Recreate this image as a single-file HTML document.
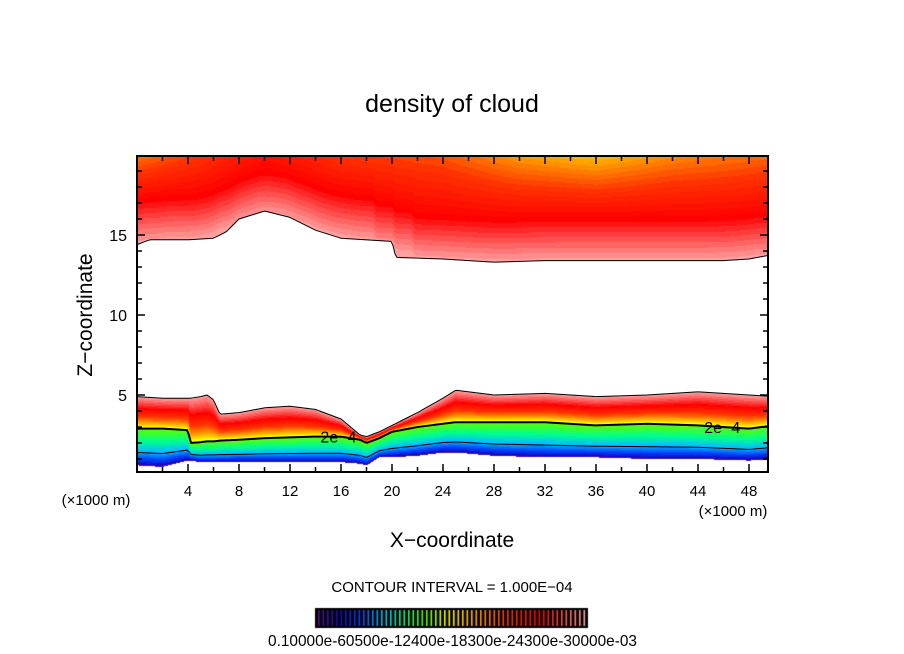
<!DOCTYPE html>
<html><head><meta charset="utf-8"><style>
html,body{margin:0;padding:0;background:#fff;}
#wrap{position:relative;width:904px;height:654px;overflow:hidden;}
canvas,svg{position:absolute;left:0;top:0;}
text{font-family:"Liberation Sans",sans-serif;fill:#000;}
</style></head><body>
<div id="wrap">
<canvas id="cv" width="904" height="654"></canvas>
<svg id="sv" width="904" height="654">
<text x="452" y="112" text-anchor="middle" font-size="25">density of cloud</text>
<text transform="translate(92,315) rotate(-90)" text-anchor="middle" font-size="21">Z−coordinate</text>
<text x="452" y="547" text-anchor="middle" font-size="21">X−coordinate</text>
<text x="96" y="505" text-anchor="middle" font-size="15">(×1000 m)</text>
<text x="733" y="516" text-anchor="middle" font-size="15">(×1000 m)</text>
<text x="452" y="592" text-anchor="middle" font-size="15">CONTOUR INTERVAL = 1.000E−04</text>
<text x="268" y="646" font-size="16" textLength="369" lengthAdjust="spacingAndGlyphs">0.10000e-60500e-12400e-18300e-24300e-30000e-03</text>
</svg>
</div>
<script>
// data (x in 1000 m, z in km)
const upperX = [0,1,4,6,7,8,10,12,14,16,18,20,20.3,24,28,32,40,46,48,50];
const upperBottom = [14.4,14.7,14.7,14.8,15.2,16,16.5,16.1,15.3,14.8,14.7,14.6,13.6,13.5,13.3,13.4,13.4,13.4,13.5,13.8];
const upperTopX = [0,5,10,16,24,30,36,42,50];
const upperTopVal = [0.26,0.28,0.30,0.28,0.27,0.25,0.24,0.255,0.265];
const lowX = [0,2,4,4.2,5,5.5,6,6.5,8,10,12,14,16,17.5,18,19,20,22,24,25,28,32,36,40,44,48,50];
const lowTop = [4.9,4.8,4.8,4.8,4.9,5.0,4.7,3.8,3.9,4.2,4.3,4.1,3.5,2.5,2.4,2.7,3.1,3.9,4.8,5.3,5.0,5.1,4.9,5.0,5.2,5.0,4.9];
const lowContour = [2.9,2.9,2.8,2.0,2.05,2.1,2.1,2.15,2.2,2.3,2.35,2.4,2.4,2.2,2.0,2.3,2.7,3.0,3.2,3.3,3.3,3.3,3.1,3.2,3.1,2.9,3.1];
const lowBottom = [0.6,0.5,0.9,0.9,0.8,0.8,0.8,0.8,0.8,0.8,0.8,0.8,0.8,0.7,0.6,1.1,1.1,1.2,1.4,1.4,1.2,1.1,1.1,1.0,1.0,0.9,1.0];
const cbarLevels = 60;
const xTicks = [4,8,12,16,20,24,28,32,36,40,44,48];
const yTicks = [5,10,15];

const L=137,R=768,T=156,B=472, XU=12.75, Z0=475, ZU=16;
const sx = x => L + x*XU;
const sz = z => Z0 - z*ZU;
const xOf = px => (px-L)/XU;
const zOf = py => (Z0-py)/ZU;
function interp(xs,ys,x){
  if(x<=xs[0])return ys[0]; if(x>=xs[xs.length-1])return ys[ys.length-1];
  for(let i=1;i<xs.length;i++) if(x<=xs[i]){const t=(x-xs[i-1])/(xs[i]-xs[i-1]);return ys[i-1]+t*(ys[i]-ys[i-1]);}
}
const stops=[[0.10,[90,16,144]],[0.12,[20,10,200]],[0.14,[0,70,255]],[0.16,[0,190,255]],[0.18,[0,255,140]],[0.20,[90,255,0]],[0.22,[255,255,0]],[0.25,[255,160,0]],[0.28,[255,50,0]],[0.31,[255,0,0]],[0.35,[255,160,160]]];
function cmap(v){
  if(v<=stops[0][0])return stops[0][1]; if(v>=stops[stops.length-1][0])return stops[stops.length-1][1];
  for(let i=1;i<stops.length;i++) if(v<=stops[i][0]){const t=(v-stops[i-1][0])/(stops[i][0]-stops[i-1][0]);
    return stops[i-1][1].map((c,k)=>Math.round(c+t*(stops[i][1][k]-c)));}
}
const cv=document.getElementById('cv'),ctx=cv.getContext('2d');
const img=ctx.createImageData(904,654);
for(let px=L;px<R;px++){
  const x=xOf(px+0.5);
  const tv=interp(upperTopX,upperTopVal,x);
  const ubs=(interp(upperX,upperBottom,x-1.5)+interp(upperX,upperBottom,x)+interp(upperX,upperBottom,x+1.5))/3;
  const ub=interp(upperX,upperBottom,x);
  const lt=interp(lowX,lowTop,x), lc=interp(lowX,lowContour,x), lb=interp(lowX,lowBottom,x);
  for(let py=T;py<B;py++){
    const z=zOf(py+0.5); let v=null;
    if(z>=ub){
      const d=z-ubs;
      if(d<2.6){v=0.35-0.04*Math.max(0,d)/2.6;}
      else{v=0.31+(tv-0.31)*Math.min(1,(d-2.6)/Math.max(0.5,20-ubs-2.6));}
    }
    else if(z<=lt && z>=lb){
      if(z>=lc) v=0.20+0.15*Math.pow((z-lc)/(lt-lc),0.65);
      else v=0.10+0.10*Math.pow((z-lb)/(lc-lb),0.55);
    }
    if(v!==null){const c=cmap(Math.round(v*200)/200);const i=(py*904+px)*4;img.data[i]=c[0];img.data[i+1]=c[1];img.data[i+2]=c[2];img.data[i+3]=255;}
  }
}
ctx.putImageData(img,0,0);
// colorbar
ctx.fillStyle='#000';ctx.fillRect(315,608,273,20);
for(let i=0;i<cbarLevels;i++){const v=0.10+0.25*i/(cbarLevels-1);const c=cmap(v);
  ctx.fillStyle=`rgb(${c[0]},${c[1]},${c[2]})`;ctx.fillRect(318+i*4.5,610,1.6,16);}

const NS='http://www.w3.org/2000/svg', sv=document.getElementById('sv');
function line(pts,w,name){const p=document.createElementNS(NS,'polyline');
  p.setAttribute('points',pts.map(q=>q.join(',')).join(' '));p.setAttribute('fill','none');p.setAttribute('stroke','#000');p.setAttribute('stroke-width',w);
  
  
  sv.appendChild(p);}
function curve(xs,ys,w,name){const pts=[];for(let px=L;px<=R;px+=2){pts.push([px,sz(interp(xs,ys,xOf(px)))]);}line(pts,w,name);}
curve(upperX,upperBottom,1,'upper-cloud-edge');
curve(lowX,lowTop,1,'lower-cloud-top-edge');
curve(lowX,lowContour,2,'contour-2e-4');
curve(lowX,lowBottom.map((b,i)=>b+(lowContour[i]-b)*0.35),1,'contour-1e-4');
function lbl(x,txt,name){const xz=interp(lowX,lowContour,x);
  const t=document.createElementNS(NS,'text');t.setAttribute('x',sx(x));t.setAttribute('y',sz(xz)+6);t.setAttribute('text-anchor','middle');t.setAttribute('font-size','16');t.textContent=txt;
  
  
  sv.appendChild(t);}
lbl(15.8,'2e−4','contour-label-left');lbl(45.9,'2e−4','contour-label-right');
// frame
const fr=document.createElementNS(NS,'rect');fr.setAttribute('x',L);fr.setAttribute('y',T);fr.setAttribute('width',R-L);fr.setAttribute('height',B-T);fr.setAttribute('fill','none');fr.setAttribute('stroke','#000');fr.setAttribute('stroke-width',2);


sv.appendChild(fr);
for(let x=2;x<50;x+=2){const major=xTicks.includes(x);const h=major?8:5;
  line([[sx(x),B],[sx(x),B-h]],1.5,'x-tick');line([[sx(x),T],[sx(x),T+h]],1.5,'x-tick-top');}
xTicks.forEach(x=>{const t=document.createElementNS(NS,'text');t.setAttribute('x',sx(x));t.setAttribute('y',496);t.setAttribute('text-anchor','middle');t.setAttribute('font-size','15');t.textContent=x;
  
  
  sv.appendChild(t);});
for(let z=1;z<20;z++){const major=yTicks.includes(z);const h=major?8:5;
  line([[L,sz(z)],[L+h,sz(z)]],1.5,'y-tick');line([[R,sz(z)],[R-h,sz(z)]],1.5,'y-tick-right');}
yTicks.forEach(z=>{const t=document.createElementNS(NS,'text');t.setAttribute('x',127);t.setAttribute('y',sz(z)+6);t.setAttribute('text-anchor','end');t.setAttribute('font-size','16');t.textContent=z;
  
  
  sv.appendChild(t);});
</script>
</body></html>
